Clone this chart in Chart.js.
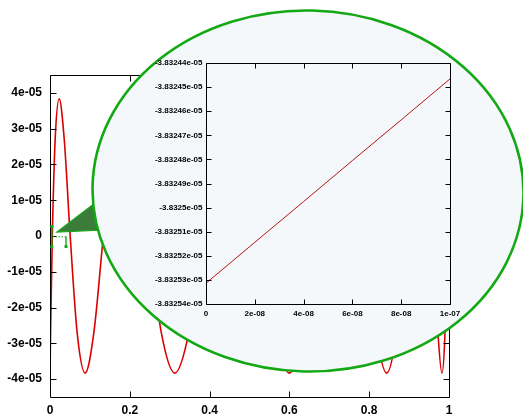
<!DOCTYPE html>
<html>
<head>
<meta charset="utf-8">
<script src="https://cdn.jsdelivr.net/npm/chart.js@4.4.1/dist/chart.umd.min.js"></script>
<style>
  html, body { margin: 0; padding: 0; background: #ffffff; }
  #wrap { position: relative; width: 523px; height: 415px; overflow: hidden; }
  #wrap canvas { position: absolute; left: 0; top: 0; }
</style>
</head>
<body>
<div id="wrap">
  <canvas id="main" width="523" height="415"></canvas>
  <canvas id="zoom" width="523" height="415"></canvas>
</div>
<script>
// Oscillating signal on [0, 1]
const waveX = [
  0, 0.00145, 0.0058, 0.0130, 0.0231, 0.0356, 0.0506, 0.0681, 0.0880,
  0.1098, 0.1337, 0.1596, 0.1872, 0.2158, 0.2468, 0.2791, 0.3129,
  0.3477, 0.3827, 0.4184, 0.4547, 0.4911, 0.5276, 0.5640, 0.6000,
  0.6340, 0.6672, 0.6994, 0.7308, 0.7611, 0.7901, 0.8175, 0.8438,
  0.8679, 0.8899, 0.9106, 0.9294, 0.9453, 0.9596, 0.9723, 0.9822,
  0.9899, 0.9955, 0.9989, 1.0
];
const waveY = [
  -3.8325e-5, -2.71e-5, 0, 2.71e-5, 3.8325e-5, 2.71e-5, 0, -2.71e-5, -3.8325e-5,
  -2.71e-5, 0, 2.71e-5, 3.8325e-5, 2.71e-5, 0, -2.71e-5, -3.8325e-5,
  -2.71e-5, 0, 2.71e-5, 3.8325e-5, 2.71e-5, 0, -2.71e-5, -3.8325e-5,
  -2.71e-5, 0, 2.71e-5, 3.8325e-5, 2.71e-5, 0, -2.71e-5, -3.8325e-5,
  -2.71e-5, 0, 2.71e-5, 3.8325e-5, 2.71e-5, 0, -2.71e-5, -3.8325e-5,
  -2.71e-5, 0, 2.71e-5, 3.8325e-5
];
const mainXTicks = [0, 0.2, 0.4, 0.6, 0.8, 1];
const mainXLabels = ['0', '0.2', '0.4', '0.6', '0.8', '1'];
const mainYTicks = [-4e-5, -3e-5, -2e-5, -1e-5, 0, 1e-5, 2e-5, 3e-5, 4e-5];
const mainYLabels = ['-4e-05', '-3e-05', '-2e-05', '-1e-05', '0', '1e-05', '2e-05', '3e-05', '4e-05'];

// Magnified start of the signal, first 1e-07 of x
const zoomX = [0, 2e-8, 4e-8, 6e-8, 8e-8, 1e-7];
const zoomY = [-3.8325314e-5, -3.8325144e-5, -3.8324975e-5, -3.8324805e-5, -3.8324636e-5, -3.8324466e-5];
const zoomXTicks = [0, 2e-8, 4e-8, 6e-8, 8e-8, 1e-7];
const zoomXLabels = ['0', '2e-08', '4e-08', '6e-08', '8e-08', '1e-07'];
const zoomYTicks = [
  -3.83254e-5, -3.83253e-5, -3.83252e-5, -3.83251e-5, -3.8325e-5, -3.83249e-5,
  -3.83248e-5, -3.83247e-5, -3.83246e-5, -3.83245e-5, -3.83244e-5
];
const zoomYLabels = [
  '-3.83254e-05', '-3.83253e-05', '-3.83252e-05', '-3.83251e-05', '-3.8325e-05', '-3.83249e-05',
  '-3.83248e-05', '-3.83247e-05', '-3.83246e-05', '-3.83245e-05', '-3.83244e-05'
];

const FONT = '"Liberation Sans", Arial, sans-serif';

function fixedTicks(values) {
  return (scale) => { scale.ticks = values.map(v => ({ value: v })); };
}

// Closed frame with inward ticks on all four sides
function boxTicks(len) {
  return {
    id: 'boxTicks',
    afterDatasetsDraw(chart) {
      const { ctx, chartArea: a, scales } = chart;
      const L = a.left + 0.5, R = a.right + 0.5, T = a.top + 0.5, B = a.bottom + 0.5;
      ctx.save();
      ctx.strokeStyle = '#000';
      ctx.lineWidth = 1;
      ctx.beginPath();
      ctx.rect(L, T, R - L, B - T);
      scales.x.ticks.forEach(t => {
        const px = Math.round(scales.x.getPixelForValue(t.value)) + 0.5;
        ctx.moveTo(px, B); ctx.lineTo(px, B - len);
        ctx.moveTo(px, T); ctx.lineTo(px, T + len);
      });
      scales.y.ticks.forEach(t => {
        const py = Math.round(scales.y.getPixelForValue(t.value)) + 0.5;
        ctx.moveTo(L, py); ctx.lineTo(L + len, py);
        ctx.moveTo(R, py); ctx.lineTo(R - len, py);
      });
      ctx.stroke();
      ctx.restore();
    }
  };
}

// Region marker near the origin, pointer wedge and the magnifier lens
const lensPlugin = {
  id: 'lens',
  afterDraw(chart) {
    const { ctx, scales: { x, y } } = chart;
    const ox = x.getPixelForValue(0);
    const oy = y.getPixelForValue(0);
    const green = '#14a814';
    ctx.save();

    // bracket marker
    ctx.strokeStyle = green;
    ctx.fillStyle = green;
    ctx.lineWidth = 1.4;
    ctx.beginPath();
    ctx.moveTo(ox + 1.8, oy - 9.5); ctx.lineTo(ox + 1.8, oy + 10.5);
    ctx.moveTo(ox + 16, oy + 0.5); ctx.lineTo(ox + 16, oy + 10.5);
    ctx.stroke();
    ctx.setLineDash([1.5, 1.5]);
    ctx.lineWidth = 1;
    ctx.beginPath();
    ctx.moveTo(ox + 2.5, oy + 0.8); ctx.lineTo(ox + 16, oy + 0.8);
    ctx.stroke();
    ctx.setLineDash([]);
    [[ox + 1.8, oy - 9.5], [ox + 1.8, oy + 10.5], [ox + 16, oy + 10.5]].forEach(([px, py]) => {
      ctx.fillRect(px - 1.5, py - 1.5, 3, 3);
    });

    // pointer wedge
    ctx.beginPath();
    ctx.moveTo(ox + 7, oy - 4);
    ctx.lineTo(ox + 47, oy - 34.5);
    ctx.lineTo(ox + 54, oy - 6);
    ctx.closePath();
    ctx.fillStyle = '#3b7c3b';
    ctx.fill();
    ctx.strokeStyle = green;
    ctx.lineWidth = 1.2;
    ctx.stroke();

    // lens
    ctx.beginPath();
    ctx.ellipse(308, 191, 215.5, 180.5, 0.022, 0, Math.PI * 2);
    ctx.fillStyle = '#f4f8fb';
    ctx.fill();
    ctx.strokeStyle = green;
    ctx.lineWidth = 2.6;
    ctx.stroke();
    ctx.restore();
  }
};

new Chart(document.getElementById('main'), {
  type: 'line',
  data: {
    datasets: [{
      data: waveX.map((v, i) => ({ x: v, y: waveY[i] })),
      borderColor: '#da0000',
      borderWidth: 1.6,
      pointRadius: 0,
      fill: false,
      cubicInterpolationMode: 'monotone'
    }]
  },
  options: {
    responsive: false,
    animation: false,
    devicePixelRatio: 1,
    layout: { padding: { top: 75, right: 74, left: 0, bottom: 0 } },
    plugins: { legend: { display: false }, tooltip: { enabled: false } },
    scales: {
      x: {
        type: 'linear', min: 0, max: 1,
        afterBuildTicks: fixedTicks(mainXTicks),
        afterFit: (s) => { s.height = 18; },
        grid: { display: false, drawTicks: false },
        border: { display: false },
        ticks: {
          autoSkip: false, maxRotation: 0, padding: 6.5, color: '#000',
          font: { family: FONT, size: 12, weight: 'bold' },
          callback: (v, i) => mainXLabels[i]
        }
      },
      y: {
        type: 'linear', min: -4.5e-5, max: 4.5e-5,
        afterBuildTicks: fixedTicks(mainYTicks),
        afterFit: (s) => { s.width = 50; },
        grid: { display: false, drawTicks: false },
        border: { display: false },
        ticks: {
          autoSkip: false, padding: 8, color: '#000',
          font: { family: FONT, size: 12, weight: 'bold' },
          callback: (v, i) => mainYLabels[i]
        }
      }
    }
  },
  plugins: [boxTicks(6), lensPlugin]
});

new Chart(document.getElementById('zoom'), {
  type: 'line',
  data: {
    datasets: [{
      data: zoomX.map((v, i) => ({ x: v, y: zoomY[i] })),
      borderColor: '#b31414',
      borderWidth: 1,
      pointRadius: 0,
      fill: false,
      tension: 0
    }]
  },
  options: {
    responsive: false,
    animation: false,
    devicePixelRatio: 1,
    layout: { padding: { top: 63, right: 73, left: 0, bottom: 0 } },
    plugins: { legend: { display: false }, tooltip: { enabled: false } },
    scales: {
      x: {
        type: 'linear', min: 0, max: 1e-7,
        afterBuildTicks: fixedTicks(zoomXTicks),
        afterFit: (s) => { s.height = 111; },
        grid: { display: false, drawTicks: false },
        border: { display: false },
        ticks: {
          autoSkip: false, maxRotation: 0, padding: 5.2, color: '#000',
          font: { family: FONT, size: 8, weight: 'bold' },
          callback: (v, i) => zoomXLabels[i]
        }
      },
      y: {
        type: 'linear', min: -3.83254e-5, max: -3.83244e-5,
        afterBuildTicks: fixedTicks(zoomYTicks),
        afterFit: (s) => { s.width = 206; },
        grid: { display: false, drawTicks: false },
        border: { display: false },
        ticks: {
          autoSkip: false, padding: 3.5, color: '#000',
          font: { family: FONT, size: 8, weight: 'bold' },
          callback: (v, i) => zoomYLabels[i]
        }
      }
    }
  },
  plugins: [boxTicks(5)]
});
</script>
</body>
</html>
